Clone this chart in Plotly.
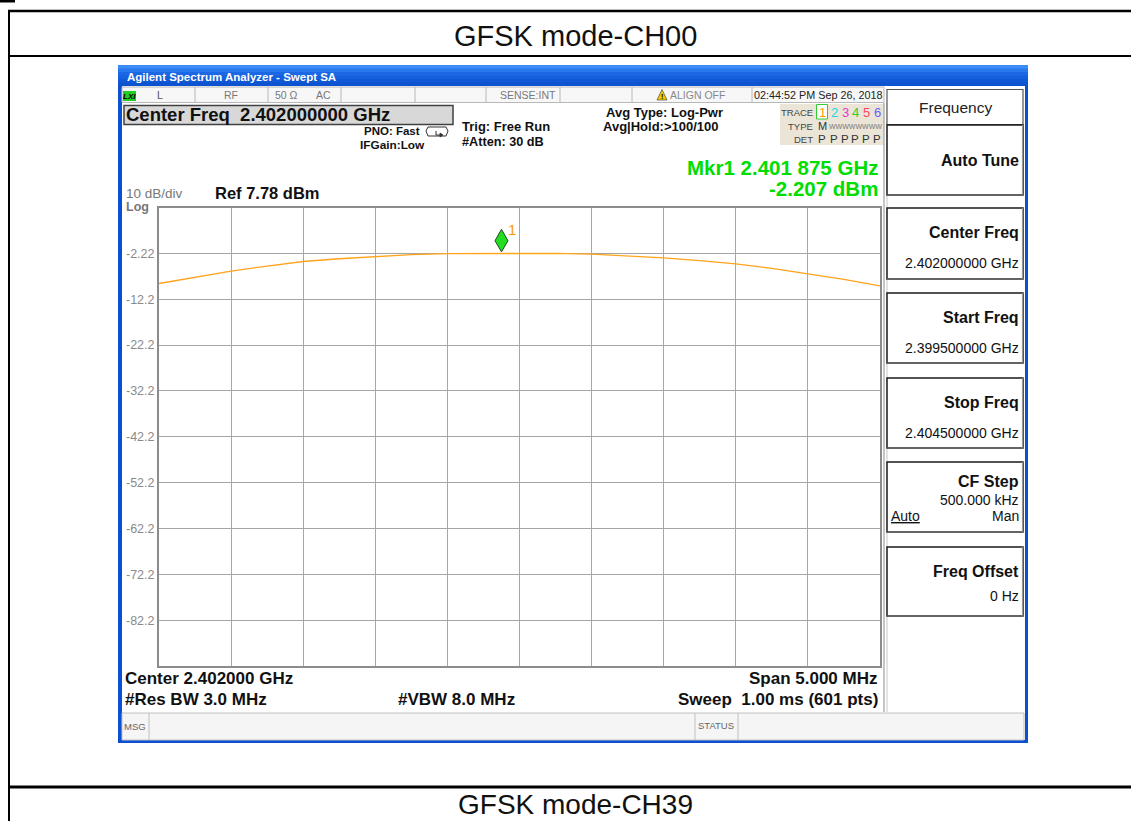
import plotly.graph_objects as go

W, H = 1131, 821
FONT = "Liberation Sans, Arial, Helvetica, sans-serif"

# ---------------- data ----------------
freq_ghz = [2.39950, 2.39975, 2.40000, 2.40025, 2.40050, 2.40075, 2.40100,
            2.40125, 2.40150, 2.40175, 2.40200, 2.40225, 2.40250, 2.40275,
            2.40300, 2.40325, 2.40350, 2.40375, 2.40400, 2.40425, 2.40450]
level_dbm = [-8.8, -7.4, -6.1, -5.0, -4.0, -3.4, -2.9,
             -2.5, -2.3, -2.22, -2.21, -2.22, -2.4, -2.8,
             -3.2, -3.8, -4.5, -5.5, -6.7, -7.9, -9.3]
marker_freq_ghz = 2.401875
marker_level_dbm = -2.207
ref_level_dbm = 7.78
db_per_div = 10
n_divs = 10
start_ghz = 2.3995
stop_ghz = 2.4045
step_ghz = 0.0005
y_tick_vals = [-2.22, -12.22, -22.22, -32.22, -42.22, -52.22, -62.22, -72.22, -82.22]
y_tick_text = ["-2.22", "-12.2", "-22.2", "-32.2", "-42.2", "-52.2", "-62.2", "-72.2", "-82.2"]

page_titles = ["GFSK mode-CH00", "GFSK mode-CH39"]
trace_nums = ["1", "2", "3", "4", "5", "6"]
trace_colors = ["#ff9900", "#22d8e0", "#ee33cc", "#33cc33", "#ff4466", "#6a5cff"]

# ---------------- helpers ----------------
shapes = []
annotations = []


def X(px):
    return px / W


def Y(py):
    return 1 - py / H


def rect(x0, y0, x1, y1, fill=None, line=None, lw=1.0, layer="below"):
    shapes.append(dict(type="rect", xref="paper", yref="paper",
                       x0=X(x0), x1=X(x1), y0=Y(y1), y1=Y(y0),
                       fillcolor=fill if fill else "rgba(0,0,0,0)",
                       line=dict(color=line if line else "rgba(0,0,0,0)",
                                 width=lw if line else 0),
                       layer=layer))


def seg(x0, y0, x1, y1, color="#000", w=1.0, layer="below"):
    shapes.append(dict(type="line", xref="paper", yref="paper",
                       x0=X(x0), x1=X(x1), y0=Y(y0), y1=Y(y1),
                       line=dict(color=color, width=w), layer=layer))


def path(pts, fill=None, line="#000", lw=1.0, closed=True, layer="below"):
    d = "M" + " L".join(f"{X(a):.6f},{Y(b):.6f}" for a, b in pts)
    if closed:
        d += " Z"
    shapes.append(dict(type="path", xref="paper", yref="paper", path=d,
                       fillcolor=fill if fill else "rgba(0,0,0,0)",
                       line=dict(color=line, width=lw), layer=layer))


def text(x, y, s, size=12, color="#000", bold=False, anchor="left", family=FONT):
    if bold:
        s = "<b>" + s + "</b>"
    annotations.append(dict(x=X(x), y=Y(y), xref="paper", yref="paper",
                            text=s, showarrow=False, xanchor=anchor,
                            yanchor="middle", borderpad=0,
                            font=dict(size=size, color=color, family=family)))


# ---------------- page (document table) ----------------
rect(0, 0, 15, 2.5, fill="#000")
seg(8, 11, W, 11, "#000", 2.5)
seg(9, 56, W, 56, "#000", 2)
seg(9, 10, 9, H, "#000", 2)
seg(9, 787, W, 787, "#000", 3)
text(575, 36, page_titles[0], 29, "#111", anchor="center")
text(575, 804, page_titles[1], 28, "#111", anchor="center")

# ---------------- window frame ----------------
rect(118, 65, 1028, 743, fill="#0c4fd0")
bands = ["#3b8cf7", "#2a78ee", "#1c68e4", "#1560dc", "#1058d6", "#0d52cf"]
bh = 21 / len(bands)
for i, c in enumerate(bands):
    rect(118, 65 + i * bh, 1028, 65 + (i + 1) * bh + 0.5, fill=c)
text(126, 77, "Agilent Spectrum Analyzer - Swept SA", 11.5, "#ffffff", bold=True)
rect(122, 86, 1025, 740, fill="#ffffff")

# status bar
rect(122, 87, 884, 102.5, fill="#f7f7f7", line="#b8b8b8", lw=1)
for xd in [195, 268, 341, 415, 486, 560, 632, 752]:
    seg(xd, 87, xd, 102.5, "#b8b8b8", 1)
rect(123, 91, 136, 101, fill="#22cc22")
text(129.5, 96, "<i>LXI</i>", 8, "#000", bold=True, anchor="center")
text(160, 95, "L", 10.5, "#555", anchor="center")
text(231, 95, "RF", 10.5, "#777", anchor="center")
text(286, 95, "50 Ω", 10.5, "#777", anchor="center")
text(323, 95, "AC", 10.5, "#777", anchor="center")
text(528, 95, "SENSE:INT", 10.5, "#777", anchor="center")
path([(657, 100), (667, 100), (662, 89.5)], fill="#f5c800", line="#333", lw=0.6)
text(662, 96, "!", 7, "#000", bold=True, anchor="center")
text(669, 95, "ALIGN OFF", 10.5, "#888")
text(753, 95, "02:44:52 PM Sep 26, 2018", 10.8, "#222")

# center freq box
rect(124, 105.5, 453, 124.5, fill="#d8d8d8", line="#404040", lw=1.5)
text(125, 115, "Center Freq  2.402000000 GHz", 18.5, "#111", bold=True)

text(363, 131, "PNO: Fast", 11.5, "#111", bold=True)
path([(428, 127), (446, 127), (448, 131), (446, 136), (428, 136), (426, 131)],
     fill=None, line="#333", lw=1)
path([(436, 131), (436, 135), (441, 135)], fill=None, line="#333", lw=1, closed=False)
path([(440, 133), (443, 135), (440, 137)], fill="#333", line="#333", lw=0.8)
text(359, 145, "IFGain:Low", 11.8, "#111", bold=True)
text(461, 127, "Trig: Free Run", 13, "#111", bold=True)
text(461, 142, "#Atten: 30 dB", 12.7, "#111", bold=True)
text(605, 112, "Avg Type: Log-Pwr", 13, "#111", bold=True)
text(602, 127, "Avg|Hold:>100/100", 13, "#111", bold=True)

# trace panel
rect(780, 104, 884, 145, fill="#ebe5d8")
text(814, 112, "TRACE", 9.5, "#444", anchor="right")
text(814, 126, "TYPE", 9.5, "#444", anchor="right")
text(814, 139, "DET", 9.5, "#444", anchor="right")
tx = [822, 834, 845, 855, 866, 877]
rect(816.5, 104.5, 827.5, 119, fill="#ffffff", line="#33cc33", lw=1)
for xx, n, c in zip(tx, trace_nums, trace_colors):
    text(xx, 112, n, 13, c, anchor="center")
    text(xx, 139, "P", 11.5, "#333", anchor="center")
text(822, 126, "M", 11, "#333", anchor="center")
text(828, 126, "WWWWWWWW", 7, "#777")

# marker readout
text(879, 168, "Mkr1 2.401 875 GHz", 20.5, "#00dd00", bold=True, anchor="right")
text(879, 188, "-2.207 dBm", 20.5, "#00dd00", bold=True, anchor="right")

text(125, 193.5, "10 dB/div", 13.5, "#777")
text(125, 207, "Log", 12.5, "#777", bold=True)
text(214, 193, f"Ref {ref_level_dbm:.2f} dBm", 16.5, "#111", bold=True)

# bottom info
text(124, 678, "Center 2.402000 GHz", 17, "#111", bold=True)
text(124, 699, "#Res BW 3.0 MHz", 17, "#111", bold=True)
text(397, 699, "#VBW 8.0 MHz", 17, "#111", bold=True)
text(879, 678, "Span 5.000 MHz", 17, "#111", bold=True, anchor="right")
text(879, 699, "Sweep  1.00 ms (601 pts)", 17, "#111", bold=True, anchor="right")

# separator between display and softkeys
seg(884, 103, 884, 712, "#a0a0a0", 1.2)
seg(887, 103, 887, 712, "#c8c8c8", 1)

# msg bar
rect(122, 713, 1024, 740, fill="#f5f5f5", line="#c0c0c0", lw=1)
seg(149, 713, 149, 740, "#c0c0c0", 1)
seg(695, 713, 695, 740, "#c0c0c0", 1)
seg(738, 713, 738, 740, "#c0c0c0", 1)
text(123, 726, "MSG", 9.5, "#666")
text(697, 725, "STATUS", 9.5, "#666")

# softkeys
rect(887, 89.5, 1023, 124.5, fill="#ffffff", line="#555", lw=1.2)
text(955, 107, "Frequency", 15.5, "#222", anchor="center")
keys = [
    (125, 195, [("Auto Tune", 160.5, True)]),
    (208, 279, [("Center Freq", 233, True), ("2.402000000 GHz", 263, False)]),
    (293, 363, [("Start Freq", 317.5, True), ("2.399500000 GHz", 348, False)]),
    (378, 448, [("Stop Freq", 402.5, True), ("2.404500000 GHz", 433, False)]),
    (462, 532, [("CF Step", 481, True), ("500.000 kHz", 499.5, False), ("Man", 516, False)]),
    (547, 616, [("Freq Offset", 571.5, True), ("0 Hz", 595.5, False)]),
]
for y0, y1, lines in keys:
    rect(887, y0, 1023, y1, fill="#ffffff", line="#1a1a1a", lw=1.5)
    seg(1022.5, y0, 1022.5, y1, "#999", 1.2)
    seg(887, y1, 1023, y1, "#777", 1.2)
    for s, yy, b in lines:
        text(1020, yy, s, 16 if b else 14, "#111", bold=b, anchor="right")
text(890, 516, "<u>Auto</u>", 14, "#111")

# ---------------- spectrum plot ----------------
marker_diamond = dict(type="path", xref="x", yref="y",
                      xsizemode="pixel", ysizemode="pixel",
                      xanchor=marker_freq_ghz, yanchor=marker_level_dbm,
                      path="M0,1.5 L-6.5,12.5 L0,24 L6.5,12.5 Z",
                      fillcolor="#22dd22", line=dict(color="#1d4d1d", width=1),
                      layer="above")
shapes.append(marker_diamond)
annotations.append(dict(x=marker_freq_ghz, y=marker_level_dbm, xref="x", yref="y",
                        text="1", showarrow=False, xshift=11, yshift=24,
                        font=dict(size=15, color="#ff9900", family=FONT)))

fig = go.Figure()
fig.add_trace(go.Scatter(x=freq_ghz, y=level_dbm, mode="lines",
                         line=dict(color="#ffa31a", width=1.3),
                         hoverinfo="skip", showlegend=False))

y_top = ref_level_dbm
y_bot = ref_level_dbm - db_per_div * n_divs

fig.update_layout(
    width=W, height=H, autosize=False,
    margin=dict(l=0, r=0, t=0, b=0, pad=0),
    paper_bgcolor="#ffffff", plot_bgcolor="#ffffff",
    showlegend=False,
    shapes=shapes, annotations=annotations,
    xaxis=dict(domain=[X(159), X(880)], range=[start_ghz, stop_ghz],
               tick0=start_ghz, dtick=step_ghz, showticklabels=False,
               showgrid=True, gridcolor="#a6a6a6", gridwidth=1,
               zeroline=False, showline=True, mirror=True,
               linecolor="#8c8c8c", linewidth=2, ticks="", fixedrange=True),
    yaxis=dict(domain=[Y(666), Y(207.5)], range=[y_bot, y_top],
               tickmode="array", tickvals=y_tick_vals, ticktext=y_tick_text,
               tickfont=dict(size=12.5, color="#8a8a8a", family=FONT),
               showgrid=True, gridcolor="#a6a6a6", gridwidth=1,
               zeroline=False, showline=True, mirror=True,
               linecolor="#8c8c8c", linewidth=2, ticks="", fixedrange=True),
)

fig.write_html("out.html",
               config={"displayModeBar": False},
               post_script="document.body.style.margin='0px';document.body.style.overflow='hidden';")
